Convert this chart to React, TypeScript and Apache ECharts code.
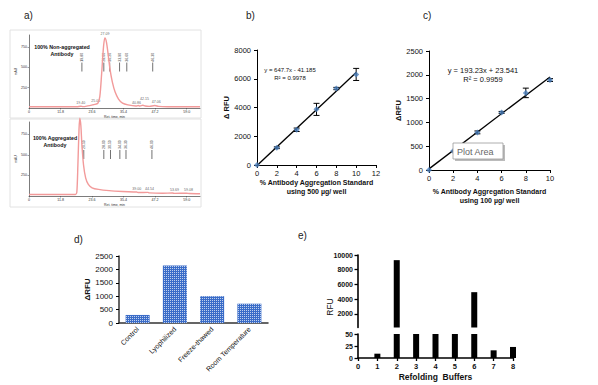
import React, { useEffect, useRef } from "react";
import * as echarts from "echarts";

// ---------- a) chromatograms ----------
const A_TOP_TRACE: [number, number][] = [
  [0, 15], [10, 15], [18, 16], [19.4, 22], [20.2, 17], [22, 26], [24, 40], [25, 48], [25.8, 60],
  [26.5, 140], [27.2, 430], [27.9, 760], [28.4, 865], [29.0, 810], [29.7, 640], [30.4, 460],
  [31.2, 320], [32.2, 200], [33.5, 110], [35, 60], [37, 38], [40.0, 24], [40.9, 30], [41.5, 24],
  [42.6, 34], [43.5, 24], [45, 20], [47.1, 30], [48.5, 20], [52, 16], [64, 15],
];
const A_TOP_PEAKS = [
  { name: "19.40", value: [19.4, 22] },
  { name: "25.00", value: [25.0, 48] },
  { name: "27.09", value: [28.4, 865] },
  { name: "40.86", value: [40.2, 22] },
  { name: "42.15", value: [43.2, 62] },
  { name: "47.06", value: [47.6, 30] },
];
const A_TOP_MARKERS = [19.8, 28.0, 30.2, 33.9, 36.6, 46.3];
const A_TOP_MARKER_LABELS = ["19.80", "28.00", "30.20", "33.90", "36.60", "46.30"];

const A_BOT_TRACE: [number, number][] = [
  [0, 18], [10, 18], [17.4, 19], [17.9, 45], [18.3, 380], [18.7, 790], [19.0, 945], [19.4, 860],
  [19.8, 620], [20.4, 380], [21.2, 220], [22.2, 140], [23.6, 100], [26, 80], [30, 65], [35, 55],
  [40.3, 48], [41, 42], [44.5, 44], [45, 38], [50, 34], [53.7, 36], [54.5, 32], [59, 34], [60, 30], [64, 28],
];
const A_BOT_PEAKS = [
  { name: "19.71", value: [19.0, 945] },
  { name: "39.00", value: [40.3, 48] },
  { name: "44.54", value: [45.1, 44] },
  { name: "53.69", value: [54.5, 36] },
  { name: "59.08", value: [59.7, 34] },
];
const A_BOT_MARKERS = [20.5, 28.0, 30.5, 34.0, 36.3, 46.0];
const A_BOT_MARKER_LABELS = ["20.50", "28.00", "30.50", "34.00", "36.30", "46.00"];

// ---------- b) 500 µg/well standard ----------
const B_X = [0, 2, 4, 6, 8, 10];
const B_Y = [0, 1200, 2450, 3870, 5320, 6300];
const B_ERR = [0, 60, 120, 420, 80, 420];
const B_TREND: [number, number][] = [[0, -41], [10, 6436]];

// ---------- c) 100 µg/well standard ----------
const C_X = [0, 2, 4, 6, 8, 10];
const C_Y = [0, 400, 790, 1210, 1620, 1890];
const C_ERR = [0, 0, 30, 20, 100, 30];
const C_TREND: [number, number][] = [[0, 23.5], [10, 1956]];

// ---------- d) stress conditions ----------
const D_CATS = ["Control", "Lyophilized", "Freeze-thawed", "Room Temperature"];
const D_VALUES = [300, 2150, 1000, 720];

// ---------- e) refolding buffers ----------
const E_X = [1, 2, 3, 4, 5, 6, 7, 8];
const E_Y = [9, 9300, 60, 60, 60, 4950, 16, 23];

const FONT = "'Liberation Sans', Arial, sans-serif";
const plain = (v: number) => String(Math.round(v * 100) / 100);

function errorBarItem(params: any, api: any) {
  const x = api.value(0);
  const lo = api.value(1);
  const hi = api.value(2);
  if (hi - lo <= 0) return null;
  const p1 = api.coord([x, lo]);
  const p2 = api.coord([x, hi]);
  const w = 3;
  const st = { stroke: "#000", lineWidth: 1 };
  return {
    type: "group",
    children: [
      { type: "line", shape: { x1: p1[0], y1: p1[1], x2: p2[0], y2: p2[1] }, style: st },
      { type: "line", shape: { x1: p1[0] - w, y1: p1[1], x2: p1[0] + w, y2: p1[1] }, style: st },
      { type: "line", shape: { x1: p2[0] - w, y1: p2[1], x2: p2[0] + w, y2: p2[1] }, style: st },
    ],
  };
}

function markerRenderer(labels: string[]) {
  return (params: any, api: any) => {
    const t = api.value(0);
    const pT = api.coord([t, 625]);
    const pA = api.coord([t, 560]);
    const pB = api.coord([t, 450]);
    return {
      type: "group",
      children: [
        {
          type: "text",
          x: pT[0],
          y: pT[1],
          rotation: Math.PI / 2,
          style: { text: labels[params.dataIndex], fontSize: 3.5, fontFamily: FONT, align: "center", verticalAlign: "middle", fill: "#333" },
        },
        { type: "line", shape: { x1: pA[0], y1: pA[1], x2: pB[0], y2: pB[1] }, style: { stroke: "#333", lineWidth: 0.7 } },
      ],
    };
  };
}

const tiny = { fontSize: 3.6, color: "#333", fontFamily: FONT };

function chromX(gridIndex: number) {
  return {
    gridIndex,
    type: "value",
    min: 0,
    max: 64,
    interval: 11.8,
    splitLine: { show: false },
    axisLine: { lineStyle: { color: "#444", width: 0.7 } },
    axisTick: { length: 1.5, lineStyle: { color: "#444", width: 0.5 } },
    axisLabel: { ...tiny, margin: 2, showMaxLabel: false, formatter: (v: number) => (v === 0 ? "0" : v.toFixed(1)) },
    name: "Ret. time, min",
    nameLocation: "middle",
    nameGap: 7,
    nameTextStyle: { ...tiny, fontSize: 3.4 },
  };
}
function chromY(gridIndex: number) {
  return {
    gridIndex,
    type: "value",
    min: 0,
    max: 900,
    interval: 250,
    splitLine: { show: false },
    axisLine: { show: true, lineStyle: { color: "#444", width: 0.7 } },
    axisTick: { show: true, length: 1.5, lineStyle: { color: "#444", width: 0.5 } },
    axisLabel: { ...tiny, margin: 2, showMinLabel: false, showMaxLabel: false, formatter: plain },
    name: "mAU",
    nameLocation: "middle",
    nameGap: 6,
    nameTextStyle: { ...tiny, fontSize: 3.4 },
  };
}

const lbl = (size: number, bold = false) => ({ fontSize: size, color: "#111", fontFamily: FONT, fontWeight: bold ? "bold" : "normal" });
const blackLine = (w: number) => ({ show: true, lineStyle: { color: "#000", width: w } });
const outTick = (len: number, w = 1) => ({ show: true, length: len, inside: false, lineStyle: { color: "#000", width: w } });

const option: any = {
  animation: false,
  backgroundColor: "#fff",
  textStyle: { fontFamily: FONT },
  grid: [
    { left: 29, top: 35, width: 171, height: 73 },
    { left: 29, top: 122, width: 171, height: 74 },
    { left: 257, top: 50, width: 119, height: 115 },
    { left: 429, top: 51, width: 121, height: 119 },
    { left: 119, top: 256, width: 149, height: 67 },
    { left: 358, top: 255, width: 155, height: 72.5 },
    { left: 358, top: 334, width: 155, height: 24 },
  ],
  xAxis: [
    chromX(0),
    chromX(1),
    {
      gridIndex: 2, type: "value", min: 0, max: 12, interval: 2, splitLine: { show: false },
      axisLine: blackLine(1), axisTick: outTick(3), axisLabel: { ...lbl(7.5), margin: 4, formatter: plain },
      name: "% Antibody Aggregation Standard\nusing 500 µg/ well", nameLocation: "middle", nameGap: 13,
      nameTextStyle: { ...lbl(7, true), lineHeight: 9 },
    },
    {
      gridIndex: 3, type: "value", min: 0, max: 10, interval: 2, splitLine: { show: false },
      axisLine: blackLine(1), axisTick: outTick(3), axisLabel: { ...lbl(7.5), margin: 4, formatter: plain },
      name: "% Antibody Aggregation Standard\nusing 100 µg/ well", nameLocation: "middle", nameGap: 17,
      nameTextStyle: { ...lbl(7, true), lineHeight: 9 },
    },
    {
      gridIndex: 4, type: "category", data: D_CATS, axisTick: { show: false },
      axisLine: { show: true, lineStyle: { color: "#333", width: 1.5 } },
      axisLabel: { ...lbl(7), rotate: 45, interval: 0, margin: 5 },
    },
    { gridIndex: 5, type: "value", min: 0, max: 8, show: false },
    {
      gridIndex: 6, type: "value", min: 0, max: 8, interval: 1, splitLine: { show: false },
      axisLine: blackLine(1.6), axisTick: outTick(3, 1.3), axisLabel: { ...lbl(7.5, true), margin: 4, formatter: plain },
      name: "Refolding  Buffers", nameLocation: "middle", nameGap: 14, nameTextStyle: lbl(8.5, true),
    },
  ],
  yAxis: [
    chromY(0),
    chromY(1),
    {
      gridIndex: 2, type: "value", min: 0, max: 8000, interval: 2000, splitLine: { show: false },
      axisLine: blackLine(1), axisTick: outTick(3), axisLabel: { ...lbl(7.5), margin: 6, formatter: plain },
      name: "Δ RFU", nameLocation: "middle", nameGap: 9, nameTextStyle: lbl(7.5, true),
    },
    {
      gridIndex: 3, type: "value", min: 0, max: 2500, interval: 500, splitLine: { show: false },
      axisLine: blackLine(1), axisTick: outTick(3), axisLabel: { ...lbl(7.5), margin: 6, formatter: plain },
      name: "ΔRFU", nameLocation: "middle", nameGap: 21, nameTextStyle: lbl(7.5, true),
    },
    {
      gridIndex: 4, type: "value", min: 0, max: 2500, interval: 500, splitLine: { show: false },
      axisLine: { show: true, lineStyle: { color: "#333", width: 1.5 } }, axisTick: outTick(3),
      axisLabel: { ...lbl(8), margin: 6, formatter: plain },
      name: "ΔRFU", nameLocation: "middle", nameGap: 27, nameTextStyle: lbl(8, true),
    },
    {
      // upper segment of the broken axis: starts just above the lower segment's range
      gridIndex: 5, type: "value", min: 150, max: 10000, splitNumber: 5, splitLine: { show: false },
      axisLine: blackLine(1.6), axisTick: outTick(3.5, 1.3),
      axisLabel: { ...lbl(7, true), margin: 5, showMinLabel: false, formatter: plain },
    },
    {
      gridIndex: 6, type: "value", min: 0, max: 50, interval: 25, splitLine: { show: false },
      axisLine: blackLine(1.6), axisTick: outTick(3.5, 1.3),
      axisLabel: { ...lbl(7, true), margin: 5, formatter: plain },
    },
  ],
  series: [
    // a) top chromatogram
    {
      type: "line", xAxisIndex: 0, yAxisIndex: 0, data: A_TOP_TRACE, showSymbol: false, smooth: 0.3, clip: false,
      lineStyle: { color: "#f29a9a", width: 1.4 },
    },
    {
      type: "scatter", xAxisIndex: 0, yAxisIndex: 0, data: A_TOP_PEAKS, symbolSize: 0,
      label: { show: true, position: "top", distance: 1.5, formatter: "{b}", ...tiny },
    },
    { type: "custom", xAxisIndex: 0, yAxisIndex: 0, data: A_TOP_MARKERS.map((t) => [t]), renderItem: markerRenderer(A_TOP_MARKER_LABELS) },
    // a) bottom chromatogram
    {
      type: "line", xAxisIndex: 1, yAxisIndex: 1, data: A_BOT_TRACE, showSymbol: false, smooth: 0.3, clip: false,
      lineStyle: { color: "#f29a9a", width: 1.4 },
    },
    {
      type: "scatter", xAxisIndex: 1, yAxisIndex: 1, data: A_BOT_PEAKS, symbolSize: 0,
      label: { show: true, position: "top", distance: 1.5, formatter: "{b}", ...tiny },
    },
    { type: "custom", xAxisIndex: 1, yAxisIndex: 1, data: A_BOT_MARKERS.map((t) => [t]), renderItem: markerRenderer(A_BOT_MARKER_LABELS) },
    // b)
    {
      type: "line", xAxisIndex: 2, yAxisIndex: 2, data: B_TREND, showSymbol: false, clip: true,
      lineStyle: { color: "#000", width: 1.3 }, z: 2,
    },
    {
      type: "custom", xAxisIndex: 2, yAxisIndex: 2, z: 3,
      data: B_X.map((x, i) => [x, B_Y[i] - B_ERR[i], B_Y[i] + B_ERR[i]]), renderItem: errorBarItem,
    },
    {
      type: "scatter", xAxisIndex: 2, yAxisIndex: 2, data: B_X.map((x, i) => [x, B_Y[i]]),
      symbol: "diamond", symbolSize: 6, itemStyle: { color: "#4a7ebb" }, z: 4,
    },
    // c)
    {
      type: "line", xAxisIndex: 3, yAxisIndex: 3, data: C_TREND, showSymbol: false,
      lineStyle: { color: "#000", width: 1.3 }, z: 2,
    },
    {
      type: "custom", xAxisIndex: 3, yAxisIndex: 3, z: 3,
      data: C_X.map((x, i) => [x, C_Y[i] - C_ERR[i], C_Y[i] + C_ERR[i]]), renderItem: errorBarItem,
    },
    {
      type: "scatter", xAxisIndex: 3, yAxisIndex: 3, data: C_X.map((x, i) => [x, C_Y[i]]),
      symbol: "diamond", symbolSize: 6, itemStyle: { color: "#4a7ebb" }, z: 4,
    },
    // d)
    {
      type: "bar", xAxisIndex: 4, yAxisIndex: 4, data: D_VALUES, barWidth: 24,
      itemStyle: {
        color: "#3a6cc8",
        decal: { symbol: "rect", symbolSize: 1, color: "rgba(255,255,255,0.68)", dashArrayX: [1, 1], dashArrayY: [1, 1] },
      },
    },
    // e)
    {
      type: "bar", xAxisIndex: 5, yAxisIndex: 5, data: E_X.map((x, i) => [x, E_Y[i]]), barWidth: 6,
      itemStyle: { color: "#000" },
    },
    {
      type: "bar", xAxisIndex: 6, yAxisIndex: 6, data: E_X.map((x, i) => [x, E_Y[i]]), barWidth: 6,
      itemStyle: { color: "#000" },
    },
  ],
  graphic: [
    // panel frames of a)
    { type: "rect", shape: { x: 10, y: 30, width: 191, height: 88 }, style: { fill: "none", stroke: "#e2e2e2", lineWidth: 1 }, silent: true },
    { type: "rect", shape: { x: 10, y: 119, width: 191, height: 88 }, style: { fill: "none", stroke: "#e2e2e2", lineWidth: 1 }, silent: true },
    // panel letters
    { type: "text", x: 24, y: 15, style: { text: "a)", fontSize: 10, fontFamily: FONT, fill: "#222", verticalAlign: "middle" } },
    { type: "text", x: 246, y: 15, style: { text: "b)", fontSize: 10, fontFamily: FONT, fill: "#222", verticalAlign: "middle" } },
    { type: "text", x: 423, y: 15, style: { text: "c)", fontSize: 10, fontFamily: FONT, fill: "#222", verticalAlign: "middle" } },
    { type: "text", x: 74, y: 239, style: { text: "d)", fontSize: 10, fontFamily: FONT, fill: "#222", verticalAlign: "middle" } },
    { type: "text", x: 298, y: 235, style: { text: "e)", fontSize: 10, fontFamily: FONT, fill: "#222", verticalAlign: "middle" } },
    // chromatogram titles
    {
      type: "text", x: 62, y: 50.5,
      style: { text: "100% Non-aggregated\nAntibody", fontSize: 5.3, fontWeight: "bold", fontFamily: FONT, fill: "#111", align: "center", verticalAlign: "middle", lineHeight: 7 },
    },
    {
      type: "text", x: 55, y: 141.5,
      style: { text: "100% Aggregated\nAntibody", fontSize: 5.3, fontWeight: "bold", fontFamily: FONT, fill: "#111", align: "center", verticalAlign: "middle", lineHeight: 7 },
    },
    // regression labels
    {
      type: "text", x: 290, y: 74,
      style: { text: "y = 647.7x - 41.185\nR² = 0.9978", fontSize: 6, fontFamily: FONT, fill: "#111", align: "center", verticalAlign: "middle", lineHeight: 8 },
    },
    {
      type: "text", x: 483, y: 74.5,
      style: { text: "y = 193.23x + 23.541\nR² = 0.9959", fontSize: 7.5, fontFamily: FONT, fill: "#111", align: "center", verticalAlign: "middle", lineHeight: 9 },
    },
    // "Plot Area" hover tip in c)
    { type: "rect", shape: { x: 455, y: 145, width: 50, height: 16 }, style: { fill: "#bbb" }, z: 100 },
    { type: "rect", shape: { x: 453, y: 143, width: 50, height: 16 }, style: { fill: "#fff", stroke: "#999", lineWidth: 0.8 }, z: 101 },
    { type: "text", x: 457, y: 151.5, style: { text: "Plot Area", fontSize: 9, fontFamily: FONT, fill: "#666", verticalAlign: "middle" }, z: 102 },
    // e) axis title
    { type: "text", x: 330, y: 307, rotation: Math.PI / 2, style: { text: "RFU", fontSize: 8.5, fontFamily: FONT, fill: "#111", align: "center", verticalAlign: "middle" } },
  ],
};

export default function App() {
  const ref = useRef<HTMLDivElement>(null);
  useEffect(() => {
    const chart = echarts.init(ref.current!, undefined, { renderer: "svg", width: 598, height: 385 });
    chart.setOption(option);
    return () => chart.dispose();
  }, []);
  return <div ref={ref} style={{ position: "absolute", left: 0, top: 0, width: 598, height: 385, background: "#fff" }} />;
}
